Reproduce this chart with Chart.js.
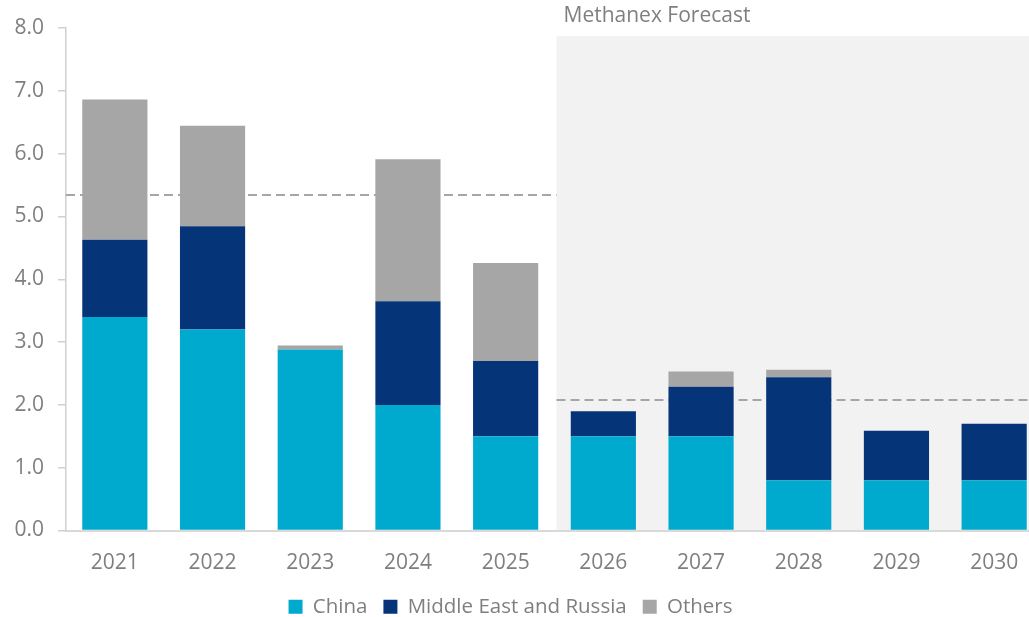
<!DOCTYPE html>
<html>
<head>
<meta charset="utf-8">
<script src="https://cdn.jsdelivr.net/npm/chart.js@4/dist/chart.umd.min.js"></script>
<style>
  html, body { margin: 0; padding: 0; background: #ffffff; overflow: hidden; width: 1029px; height: 617px; }
  #wrap { position: relative; width: 1043px; height: 617px; }
</style>
</head>
<body>
<div id="wrap"><canvas id="c"></canvas></div>
<script>
// ---- data ----
const years = ['2021','2022','2023','2024','2025','2026','2027','2028','2029','2030'];
const china = [3.40, 3.20, 2.88, 2.00, 1.50, 1.50, 1.50, 0.80, 0.80, 0.80];
const middleEastRussia = [1.23, 1.645, 0, 1.65, 1.20, 0.40, 0.79, 1.64, 0.79, 0.90];
const others = [2.23, 1.60, 0.065, 2.26, 1.56, 0, 0.24, 0.12, 0, 0];
const yTicks = [0, 1, 2, 3, 4, 5, 6, 7, 8];
const actualAverage = 5.335;
const forecastAverage = 2.075;
const forecastFirstIndex = 5;
const forecastLabel = 'Methanex Forecast';

// ---- styles ----
const FONT = '"Open Sans", "Noto Sans", sans-serif';
const TEXT = '#7F7F7F';
const AXIS = '#D0D0D0';
const SHADE_TOP = 7.87;
const VIEW_RIGHT = 1029;

const overlay = {
  id: 'overlay',
  afterLayout(chart) {
    const lg = chart.legend;
    if (lg) {
      const dx = -11, dy = 10;
      lg.left += dx; lg.right += dx;
      lg.top += dy; lg.bottom += dy;
    }
  },
  beforeDraw(chart) {
    const { ctx, scales: { x, y }, chartArea } = chart;
    const left = x.getPixelForValue(forecastFirstIndex - 0.5) + 2;
    const top = y.getPixelForValue(SHADE_TOP);
    const bottom = y.getPixelForValue(0);
    ctx.save();
    ctx.fillStyle = '#F2F2F2';
    ctx.fillRect(left, top, chartArea.right - left, bottom - top);
    ctx.fillStyle = TEXT;
    ctx.font = '21px ' + FONT;
    ctx.textAlign = 'left';
    ctx.textBaseline = 'middle';
    ctx.fillText(forecastLabel, left + 7, 16);
    ctx.restore();
  },
  beforeDatasetsDraw(chart) {
    const { ctx, scales: { x, y }, chartArea } = chart;
    const split = x.getPixelForValue(forecastFirstIndex - 0.5) + 2;
    ctx.save();
    ctx.strokeStyle = '#A6A6A6';
    ctx.lineWidth = 2;
    ctx.setLineDash([9, 5]);
    let py = Math.round(y.getPixelForValue(actualAverage));
    ctx.beginPath(); ctx.moveTo(chartArea.left, py); ctx.lineTo(split, py); ctx.stroke();
    py = Math.round(y.getPixelForValue(forecastAverage));
    ctx.beginPath(); ctx.moveTo(split, py); ctx.lineTo(Math.min(chartArea.right, VIEW_RIGHT), py); ctx.stroke();
    ctx.restore();
  }
};

new Chart(document.getElementById('c'), {
  type: 'bar',
  data: {
    labels: years,
    datasets: [
      { label: 'China', data: china, backgroundColor: '#00A9CE', borderWidth: 0 },
      { label: 'Middle East and Russia', data: middleEastRussia, backgroundColor: '#063478', borderWidth: 0 },
      { label: 'Others', data: others, backgroundColor: '#A6A6A6', borderWidth: 0 }
    ]
  },
  options: {
    responsive: true,
    maintainAspectRatio: false,
    animation: false,
    devicePixelRatio: 1,
    datasets: { bar: { categoryPercentage: 1.0, barPercentage: 0.667 } },
    layout: { padding: { left: 0, right: 0, top: 28, bottom: 0 } },
    plugins: {
      tooltip: { enabled: false },
      legend: {
        position: 'bottom',
        labels: {
          font: { family: FONT, size: 20.5 },
          color: TEXT,
          boxWidth: 14,
          boxHeight: 14,
          padding: 16
        }
      }
    },
    scales: {
      x: {
        stacked: true,
        grid: { display: false },
        border: { display: true, color: '#D9D9D9', width: 2 },
        ticks: { font: { family: FONT, size: 21 }, color: TEXT, padding: 12, maxRotation: 0 },
        afterFit(scale) { scale.height = 40; }
      },
      y: {
        stacked: true,
        min: 0,
        max: 8,
        afterBuildTicks(scale) { scale.ticks = yTicks.map(v => ({ value: v })); },
        grid: { display: true, drawOnChartArea: false, drawTicks: true, tickLength: 8, color: AXIS, lineWidth: 1.5 },
        border: { display: true, color: AXIS, width: 1.5 },
        ticks: {
          font: { family: FONT, size: 21 },
          color: TEXT,
          padding: 14,
          callback: v => Number(v).toFixed(1)
        },
        afterFit(scale) { scale.width = 66; }
      }
    }
  },
  plugins: [overlay]
});
</script>
</body>
</html>
